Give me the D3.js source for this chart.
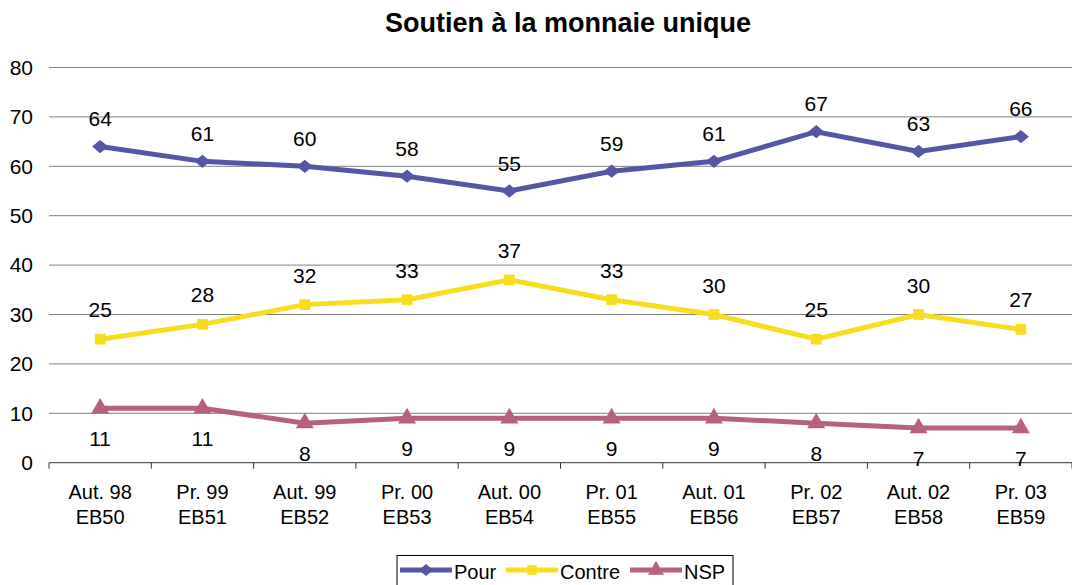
<!DOCTYPE html>
<html>
<head>
<meta charset="utf-8">
<script src="https://cdn.jsdelivr.net/npm/d3@7"></script>
<style>
  body { margin: 0; background: #fff; }
  svg { font-family: "Liberation Sans", Arial, sans-serif; }
</style>
</head>
<body>
<div id="chart"></div>
<script>
const categories = [
  ["Aut. 98", "EB50"], ["Pr. 99", "EB51"], ["Aut. 99", "EB52"], ["Pr. 00", "EB53"],
  ["Aut. 00", "EB54"], ["Pr. 01", "EB55"], ["Aut. 01", "EB56"], ["Pr. 02", "EB57"],
  ["Aut. 02", "EB58"], ["Pr. 03", "EB59"]
];
const pour = [64, 61, 60, 58, 55, 59, 61, 67, 63, 66];
const contre = [25, 28, 32, 33, 37, 33, 30, 25, 30, 27];
const nsp = [11, 11, 8, 9, 9, 9, 9, 8, 7, 7];
const yTicks = [0, 10, 20, 30, 40, 50, 60, 70, 80];

// wide diamond like the original marker
const diamond = {
  draw(ctx, size) {
    const w = Math.sqrt(size) * 0.62, h = w * 0.82;
    ctx.moveTo(0, -h); ctx.lineTo(w, 0); ctx.lineTo(0, h); ctx.lineTo(-w, 0); ctx.closePath();
  }
};

const series = [
  { name: "Pour", values: pour, color: "#5457a5", symbol: diamond, size: 170, labelDy: -20.5 },
  { name: "Contre", values: contre, color: "#f6dd1f", symbol: d3.symbolSquare, size: 115, labelDy: -22 },
  { name: "NSP", values: nsp, color: "#b5617f", symbol: d3.symbolTriangle, size: 140, labelDy: 37.5 }
];

const W = 1072, H = 585;
const margin = { top: 67.5, right: 0, bottom: 122.3, left: 49 };
const width = W - margin.left - margin.right;
const height = H - margin.top - margin.bottom;

const svg = d3.select("#chart").append("svg")
  .attr("width", W).attr("height", H);

svg.append("text")
  .attr("x", 568).attr("y", 32)
  .attr("text-anchor", "middle")
  .attr("font-size", 27).attr("font-weight", "bold")
  .text("Soutien à la monnaie unique");

const g = svg.append("g").attr("transform", `translate(${margin.left},${margin.top})`);

const x = d3.scaleBand().domain(d3.range(categories.length)).range([0, width]);
const y = d3.scaleLinear().domain([0, 80]).range([height, 0]);

// gridlines
g.selectAll(".grid").data(yTicks.filter(t => t > 0)).enter()
  .append("line")
  .attr("x1", 0).attr("x2", width)
  .attr("y1", d => y(d)).attr("y2", d => y(d))
  .attr("stroke", "#808080").attr("stroke-width", 1);

// y axis labels
const yAxis = g.append("g").call(d3.axisLeft(y).tickValues(yTicks).tickSize(0).tickPadding(16));
yAxis.select(".domain").remove();
yAxis.selectAll("text").attr("font-size", 21).attr("fill", "#000")
  .attr("font-family", "Liberation Sans, Arial, sans-serif");

// x axis
const xAxis = g.append("g").attr("transform", `translate(0,${height})`);
xAxis.append("line").attr("x1", 0).attr("x2", width).attr("stroke", "#333").attr("stroke-width", 1);
xAxis.selectAll(".tk").data(d3.range(categories.length + 1)).enter()
  .append("line")
  .attr("x1", d => d * x.bandwidth()).attr("x2", d => d * x.bandwidth())
  .attr("y1", 0).attr("y2", 6).attr("stroke", "#333");
const xl = xAxis.selectAll(".xl").data(categories).enter()
  .append("text")
  .attr("text-anchor", "middle")
  .attr("font-size", 20)
  .attr("transform", (d, i) => `translate(${x(i) + x.bandwidth() / 2},0)`);
xl.append("tspan").attr("x", 0).attr("y", 36.6).text(d => d[0]);
xl.append("tspan").attr("x", 0).attr("y", 61.6).text(d => d[1]);

const cx = i => x(i) + x.bandwidth() / 2;
const line = d3.line().x((d, i) => cx(i)).y(d => y(d));

series.forEach(s => {
  g.append("path").datum(s.values)
    .attr("fill", "none").attr("stroke", s.color).attr("stroke-width", 5)
    .attr("d", line);
  g.selectAll(null).data(s.values).enter()
    .append("path")
    .attr("d", d3.symbol(s.symbol, s.size))
    .attr("transform", (d, i) => `translate(${cx(i)},${y(d)})`)
    .attr("fill", s.color);
  g.selectAll(null).data(s.values).enter()
    .append("text")
    .attr("x", (d, i) => cx(i)).attr("y", d => y(d) + s.labelDy)
    .attr("text-anchor", "middle").attr("font-size", 21)
    .text(d => d);
});

// legend
const lg = svg.append("g");
lg.append("rect").attr("x", 397).attr("y", 555.5).attr("width", 336).attr("height", 40)
  .attr("fill", "#fff").attr("stroke", "#000").attr("stroke-width", 1);
const legendX = [400, 506, 630];
series.forEach((s, i) => {
  const lx = legendX[i], ly = 570;
  lg.append("line").attr("x1", lx).attr("x2", lx + 52).attr("y1", ly).attr("y2", ly)
    .attr("stroke", s.color).attr("stroke-width", 5);
  lg.append("path").attr("d", d3.symbol(s.symbol, s.size * 0.8))
    .attr("transform", `translate(${lx + 26},${ly})`).attr("fill", s.color);
  lg.append("text").attr("x", lx + 54).attr("y", 579)
    .attr("font-size", 20).text(s.name);
});
</script>
</body>
</html>
